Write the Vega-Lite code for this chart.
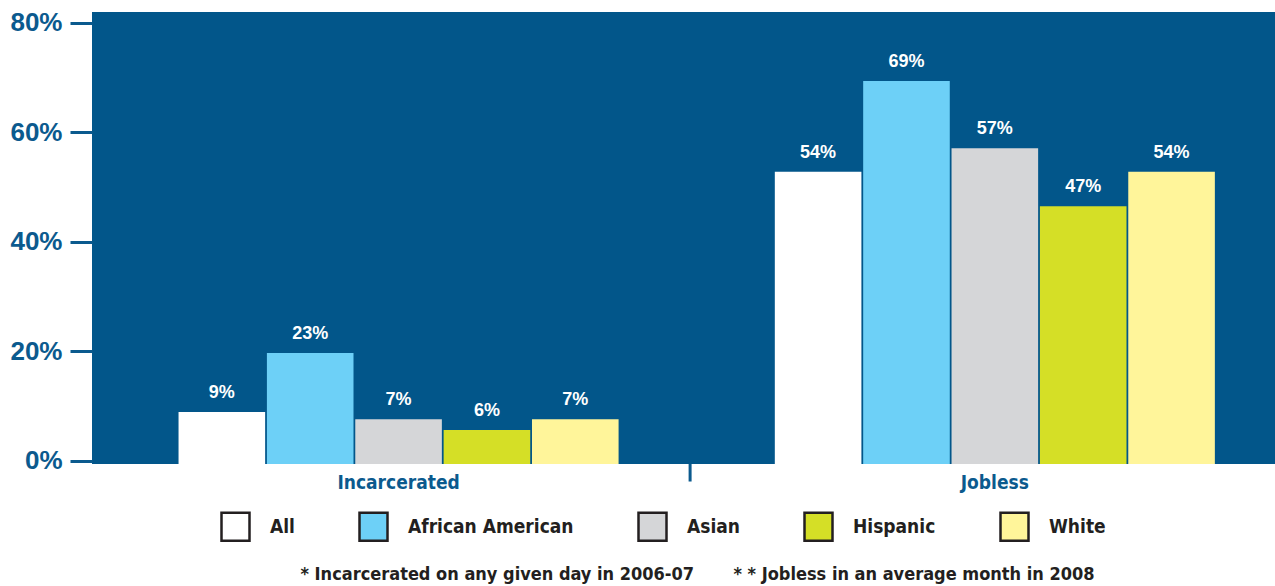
{
  "$schema": "https://vega.github.io/schema/vega-lite/v6.json",
  "width": 1183,
  "height": 452,
  "autosize": {"type": "none"},
  "padding": {"left": 92, "top": 12, "right": 0, "bottom": 122},
  "background": "white",
  "data": {
    "values": [
      {"group": "Incarcerated", "race": "All", "value": 8.9, "label": "9%"},
      {"group": "Incarcerated", "race": "African American", "value": 19.7, "label": "23%"},
      {"group": "Incarcerated", "race": "Asian", "value": 7.6, "label": "7%"},
      {"group": "Incarcerated", "race": "Hispanic", "value": 5.6, "label": "6%"},
      {"group": "Incarcerated", "race": "White", "value": 7.6, "label": "7%"},
      {"group": "Jobless", "race": "All", "value": 52.8, "label": "54%"},
      {"group": "Jobless", "race": "African American", "value": 69.4, "label": "69%"},
      {"group": "Jobless", "race": "Asian", "value": 57.1, "label": "57%"},
      {"group": "Jobless", "race": "Hispanic", "value": 46.5, "label": "47%"},
      {"group": "Jobless", "race": "White", "value": 52.8, "label": "54%"}
    ]
  },
  "title": {
    "text": "* Incarcerated on any given day in 2006-07\u00a0\u00a0\u00a0\u00a0\u00a0\u00a0\u00a0* * Jobless in an average month in 2008",
    "orient": "bottom",
    "anchor": "middle",
    "font": "DejaVu Sans Condensed, Liberation Sans, sans-serif",
    "fontSize": 18,
    "fontWeight": "bold",
    "color": "#231f20",
    "offset": 20,
    "dx": 14
  },
  "layer": [
    {
      "mark": {"type": "bar"},
      "encoding": {
        "x": {
          "field": "group",
          "type": "nominal",
          "scale": {"domain": ["Incarcerated", "Jobless"], "paddingInner": 0.262, "paddingOuter": 0.123, "align": 0.59},
          "axis": {
            "title": null,
            "labelAngle": 0,
            "ticks": false,
            "domain": false,
            "labelPadding": 9,
            "labelFont": "DejaVu Sans Condensed, Liberation Sans, sans-serif",
            "labelFontSize": 19,
            "labelFontWeight": "bold",
            "labelColor": "#0b5a8e"
          }
        },
        "xOffset": {
          "field": "race",
          "type": "nominal",
          "scale": {"domain": ["All", "African American", "Asian", "Hispanic", "White"], "paddingInner": 0.02, "paddingOuter": 0}
        },
        "y": {
          "field": "value",
          "type": "quantitative",
          "scale": {"domain": [-0.6, 82], "nice": false, "zero": false},
          "axis": {
            "title": null,
            "values": [0, 20, 40, 60, 80],
            "labelExpr": "datum.value + '%'",
            "grid": false,
            "domain": false,
            "tickSize": 22,
            "tickWidth": 3,
            "tickColor": "#0b5a8e",
            "labelPadding": 8,
            "labelFont": "Liberation Sans",
            "labelFontSize": 26,
            "labelFontWeight": "bold",
            "labelColor": "#0b5a8e"
          }
        },
        "y2": {"datum": -0.6},
        "fill": {
          "field": "race",
          "type": "nominal",
          "scale": {
            "domain": ["All", "African American", "Asian", "Hispanic", "White"],
            "range": ["#ffffff", "#6dd0f7", "#d5d6d8", "#d5df26", "#fff59a"]
          },
          "legend": {
            "orient": "none",
            "legendX": 128,
            "legendY": 499,
            "direction": "horizontal",
            "columns": 5,
            "title": null,
            "symbolType": "square",
            "symbolSize": 784,
            "symbolStrokeColor": "#231f20",
            "symbolStrokeWidth": 2.5,
            "symbolOpacity": 1,
            "labelFont": "DejaVu Sans Condensed, Liberation Sans, sans-serif",
            "labelFontSize": 19,
            "labelFontWeight": "bold",
            "labelColor": "#231f20",
            "labelOffset": 19,
            "columnPadding": 59,
            "labelLimit": 400
          }
        }
      }
    },
    {
      "mark": {"type": "text", "fill": "white", "dy": -14, "baseline": "alphabetic", "font": "Liberation Sans", "fontSize": 18, "fontWeight": "bold"},
      "encoding": {
        "x": {"field": "group", "type": "nominal"},
        "xOffset": {"field": "race", "type": "nominal"},
        "y": {"field": "value", "type": "quantitative"},
        "text": {"field": "label"}
      }
    },
    {
      "data": {"values": [{"group": "Incarcerated"}]},
      "mark": {"type": "rule", "color": "#0b5a8e", "strokeWidth": 3, "clip": false},
      "encoding": {
        "x": {"field": "group", "type": "nominal", "bandPosition": 1.1625},
        "y": {"datum": -0.6},
        "y2": {"datum": -3.8}
      }
    }
  ],
  "config": {
    "view": {"stroke": null, "fill": "#02568a"}
  }
}
